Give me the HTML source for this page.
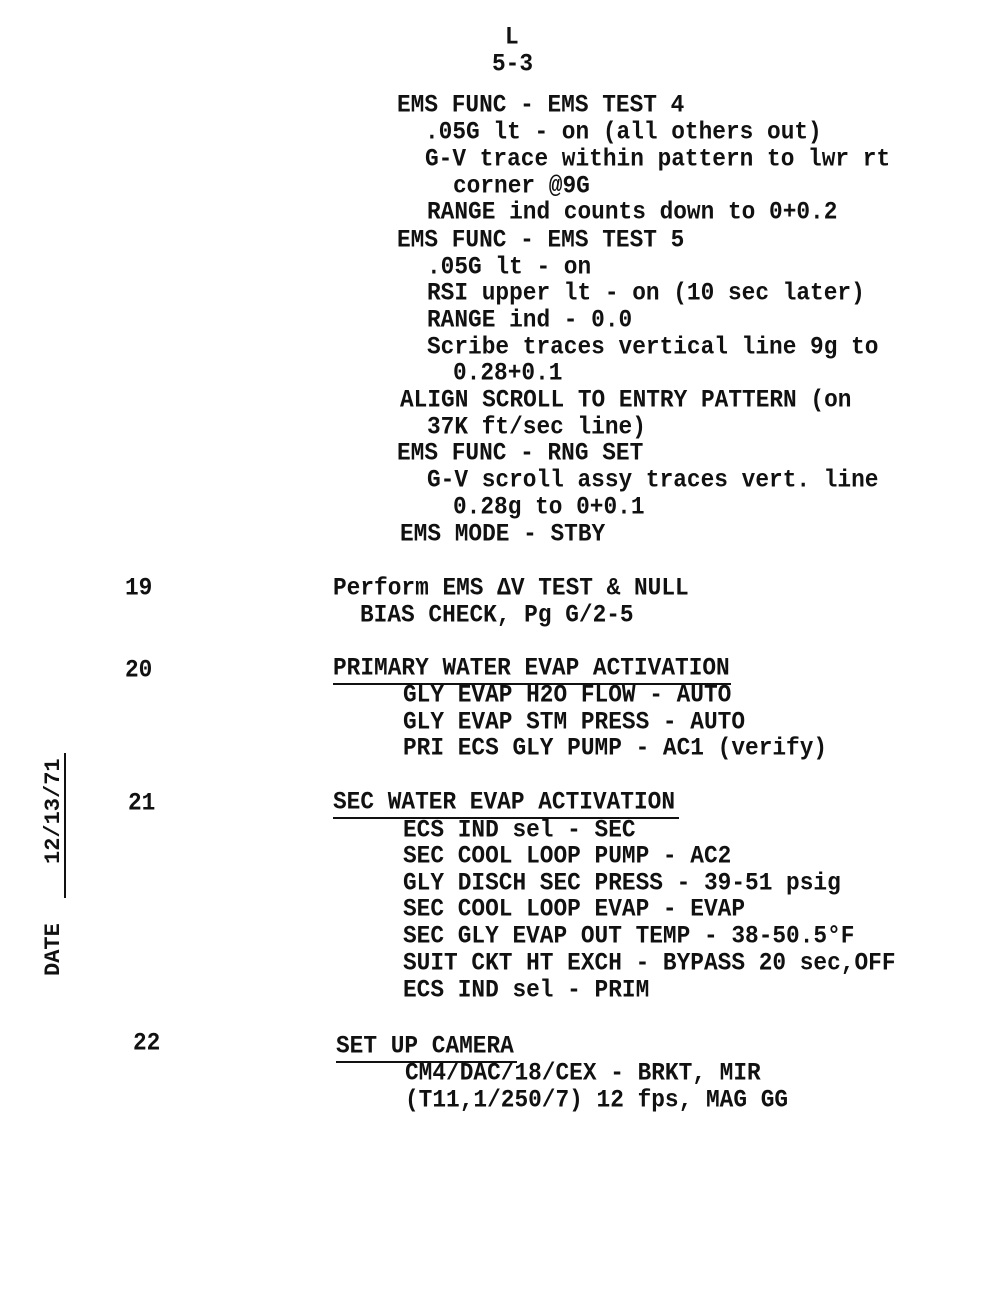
<!DOCTYPE html>
<html><head><meta charset="utf-8"><style>
body{margin:0;background:#fff;}
#p{position:relative;width:1000px;height:1300px;overflow:hidden;background:#fff;}
.t{position:absolute;font-family:"Liberation Mono",monospace;font-weight:bold;font-size:22.8px;line-height:26px;white-space:pre;color:#111;transform:scaleY(1.1);transform-origin:left center;}
.u{position:absolute;height:2px;background:#111;}
.r{position:absolute;transform:rotate(-90deg);transform-origin:left top;font-family:'Liberation Mono',monospace;font-weight:bold;font-size:22px;white-space:pre;line-height:20px;color:#111;}
</style></head><body><div id="p">
<div class="t" style="left:505px;top:24px">L</div>
<div class="t" style="left:492px;top:51px">5-3</div>
<div class="t" style="left:397px;top:92px">EMS FUNC - EMS TEST 4</div>
<div class="t" style="left:425px;top:119px">.05G lt - on (all others out)</div>
<div class="t" style="left:425px;top:146px">G-V trace within pattern to lwr rt</div>
<div class="t" style="left:453px;top:173px">corner @9G</div>
<div class="t" style="left:427px;top:199px">RANGE ind counts down to 0+0.2</div>
<div class="t" style="left:397px;top:227px">EMS FUNC - EMS TEST 5</div>
<div class="t" style="left:427px;top:254px">.05G lt - on</div>
<div class="t" style="left:427px;top:280px">RSI upper lt - on (10 sec later)</div>
<div class="t" style="left:427px;top:307px">RANGE ind - 0.0</div>
<div class="t" style="left:427px;top:334px">Scribe traces vertical line 9g to</div>
<div class="t" style="left:453px;top:360px">0.28+0.1</div>
<div class="t" style="left:400px;top:387px">ALIGN SCROLL TO ENTRY PATTERN (on</div>
<div class="t" style="left:427px;top:414px">37K ft/sec line)</div>
<div class="t" style="left:397px;top:440px">EMS FUNC - RNG SET</div>
<div class="t" style="left:427px;top:467px">G-V scroll assy traces vert. line</div>
<div class="t" style="left:453px;top:494px">0.28g to 0+0.1</div>
<div class="t" style="left:400px;top:521px">EMS MODE - STBY</div>
<div class="t" style="left:125px;top:575px">19</div>
<div class="t" style="left:333px;top:575px">Perform EMS ΔV TEST &amp; NULL</div>
<div class="t" style="left:360px;top:602px">BIAS CHECK, Pg G/2-5</div>
<div class="t" style="left:125px;top:657px">20</div>
<div class="t" style="left:333px;top:655px">PRIMARY WATER EVAP ACTIVATION</div>
<div class="u" style="left:333px;top:683px;width:398px"></div>
<div class="t" style="left:403px;top:682px">GLY EVAP H2O FLOW - AUTO</div>
<div class="t" style="left:403px;top:709px">GLY EVAP STM PRESS - AUTO</div>
<div class="t" style="left:403px;top:735px">PRI ECS GLY PUMP - AC1 (verify)</div>
<div class="t" style="left:128px;top:790px">21</div>
<div class="t" style="left:333px;top:789px">SEC WATER EVAP ACTIVATION</div>
<div class="u" style="left:333px;top:817px;width:346px"></div>
<div class="t" style="left:403px;top:817px">ECS IND sel - SEC</div>
<div class="t" style="left:403px;top:843px">SEC COOL LOOP PUMP - AC2</div>
<div class="t" style="left:403px;top:870px">GLY DISCH SEC PRESS - 39-51 psig</div>
<div class="t" style="left:403px;top:896px">SEC COOL LOOP EVAP - EVAP</div>
<div class="t" style="left:403px;top:923px">SEC GLY EVAP OUT TEMP - 38-50.5°F</div>
<div class="t" style="left:403px;top:950px">SUIT CKT HT EXCH - BYPASS 20 sec,OFF</div>
<div class="t" style="left:403px;top:977px">ECS IND sel - PRIM</div>
<div class="t" style="left:133px;top:1030px">22</div>
<div class="t" style="left:336px;top:1033px">SET UP CAMERA</div>
<div class="u" style="left:336px;top:1061px;width:181px"></div>
<div class="t" style="left:405px;top:1060px">CM4/DAC/18/CEX - BRKT, MIR</div>
<div class="t" style="left:405px;top:1087px">(T11,1/250/7) 12 fps, MAG GG</div>
<div class="r" style="left:44px;top:976px">DATE</div>
<div class="r" style="left:44px;top:864px">12/13/71</div>
<div style="position:absolute;left:64px;top:753px;width:2px;height:145px;background:#111"></div>
</div></body></html>
